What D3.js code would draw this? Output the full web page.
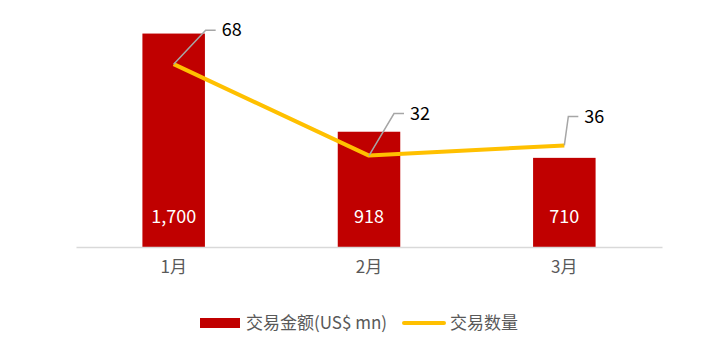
<!DOCTYPE html>
<html>
<head>
<meta charset="utf-8">
<script src="https://cdn.jsdelivr.net/npm/d3@7"></script>
<style>
  html, body { margin: 0; padding: 0; background: #fff; }
  svg { display: block; }
</style>
</head>
<body>
<svg id="chart" width="723" height="353"></svg>
<script>
// data
const months = ['1月', '2月', '3月'];
const amounts = [1700, 918, 710];   // 交易金额 (US$ mn)
const counts = [68, 32, 36];        // 交易数量

// label leader offsets (px from point to elbow)
const leaderOffsets = [[32, -34], [25, -42], [4, -29]];

const FONT = '"Noto Sans CJK SC", "Microsoft YaHei", sans-serif';
const RED = '#c00000';
const GOLD = '#ffc000';

const svg = d3.select('#chart');
const baseY = 247, topY = 21;

const x = d3.scaleBand().domain(months).range([76, 662])
  .paddingInner(0.68).paddingOuter(0.34);
const y = d3.scaleLinear().domain([0, 1800]).range([baseY, topY]);
const y2 = d3.scaleLinear().domain([-4, 85]).range([baseY, topY]);

// bars
svg.append('g').selectAll('rect')
  .data(months).join('rect')
    .attr('x', d => x(d))
    .attr('y', (d, i) => y(amounts[i]))
    .attr('width', x.bandwidth())
    .attr('height', (d, i) => baseY - y(amounts[i]))
    .attr('fill', RED);

// bar value labels
svg.append('g').selectAll('text')
  .data(months).join('text')
    .attr('x', d => x(d) + x.bandwidth() / 2)
    .attr('y', baseY - 30)
    .attr('dy', '0.35em')
    .attr('text-anchor', 'middle')
    .attr('font-family', FONT)
    .attr('font-size', 18)
    .attr('fill', '#fff')
    .text((d, i) => d3.format(',')(amounts[i]));

// x axis
const xAxis = svg.append('g').attr('transform', `translate(0,${baseY})`)
  .call(d3.axisBottom(x).tickSize(0).tickPadding(14));
xAxis.select('.domain').attr('stroke', '#d9d9d9').attr('stroke-width', 1.5);
xAxis.selectAll('text')
  .attr('font-family', FONT)
  .attr('font-size', 17)
  .attr('fill', '#595959');

// line
const cx = d => x(d) + x.bandwidth() / 2;
const line = d3.line()
  .x(d => cx(d))
  .y((d, i) => y2(counts[i]));
svg.append('path')
  .datum(months)
  .attr('d', line)
  .attr('fill', 'none')
  .attr('stroke', GOLD)
  .attr('stroke-width', 4)
  .attr('stroke-linejoin', 'round');

// leader lines + count labels
const lbl = svg.append('g');
months.forEach((m, i) => {
  const px = cx(m), py = y2(counts[i]);
  const [dx, dy] = leaderOffsets[i];
  const ex = px + dx, ey = py + dy;
  lbl.append('path')
    .attr('d', `M${px},${py}L${ex},${ey}L${ex + 10},${ey}`)
    .attr('fill', 'none')
    .attr('stroke', '#a6a6a6')
    .attr('stroke-width', 1.5);
  lbl.append('text')
    .attr('x', ex + 16)
    .attr('y', ey)
    .attr('dy', '0.35em')
    .attr('font-family', FONT)
    .attr('font-size', 18)
    .attr('fill', '#000')
    .text(counts[i]);
});

// legend
const lg = svg.append('g').attr('font-family', FONT).attr('font-size', 17).attr('fill', '#595959');
lg.append('rect').attr('x', 200).attr('y', 318).attr('width', 40).attr('height', 10).attr('fill', RED);
lg.append('text').attr('x', 246).attr('y', 323).attr('dy', '0.35em').text('交易金额(US$ mn)');
lg.append('line').attr('x1', 404).attr('x2', 444).attr('y1', 323).attr('y2', 323)
  .attr('stroke', GOLD).attr('stroke-width', 4).attr('stroke-linecap', 'round');
lg.append('text').attr('x', 450).attr('y', 323).attr('dy', '0.35em').text('交易数量');
</script>
</body>
</html>
